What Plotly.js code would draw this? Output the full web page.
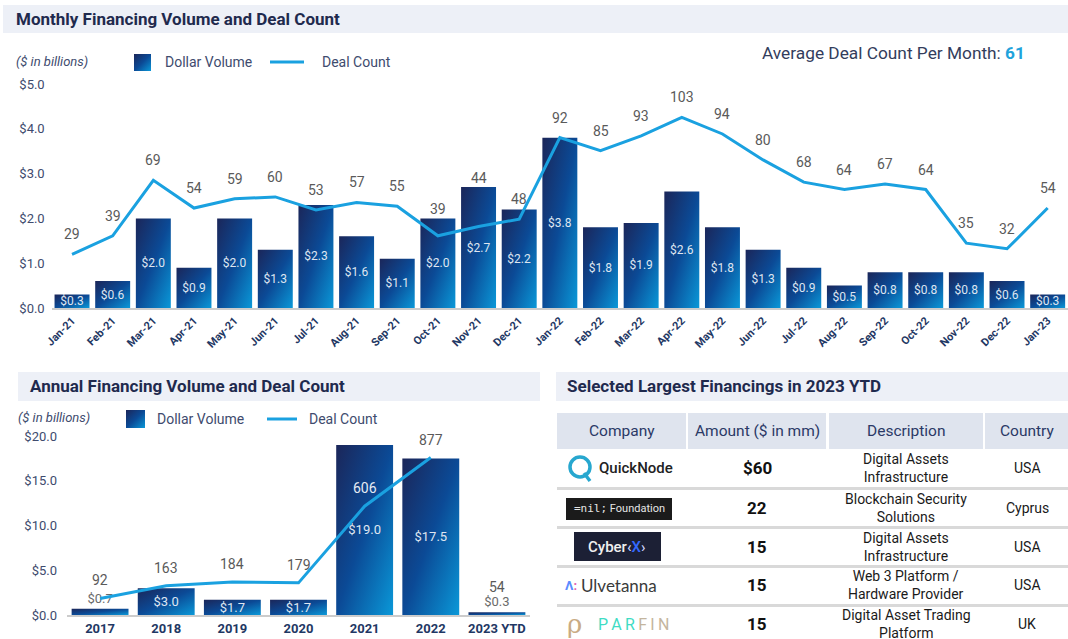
<!DOCTYPE html>
<html>
<head>
<meta charset="utf-8">
<script src="https://cdn.plot.ly/plotly-3.0.1.min.js"></script>
<style>
  html, body { margin: 0; padding: 0; background: #ffffff; }
  #chart { width: 1068px; height: 639px; }
</style>
</head>
<body>
<div id="chart"></div>
<script>
// ---------- DATA ----------
const months = ['Jan-21','Feb-21','Mar-21','Apr-21','May-21','Jun-21','Jul-21','Aug-21','Sep-21','Oct-21','Nov-21','Dec-21',
                'Jan-22','Feb-22','Mar-22','Apr-22','May-22','Jun-22','Jul-22','Aug-22','Sep-22','Oct-22','Nov-22','Dec-22','Jan-23'];
const monthlyVolume = [0.3,0.6,2.0,0.9,2.0,1.3,2.3,1.6,1.1,2.0,2.7,2.2,3.8,1.8,1.9,2.6,1.8,1.3,0.9,0.5,0.8,0.8,0.8,0.6,0.3];
const monthlyDeals  = [29,39,69,54,59,60,53,57,55,39,44,48,92,85,93,103,94,80,68,64,67,64,35,32,54];
const avgDealCount = 61;

const years = ['2017','2018','2019','2020','2021','2022','2023 YTD'];
const annualVolume = [0.7,3.0,1.7,1.7,19.0,17.5,0.3];
const annualDeals  = [92,163,184,179,606,877,54];

const tableHeaders = ['Company','Amount ($ in mm)','Description','Country'];
const tableCompanies = ['QuickNode','=nil; Foundation','Cyber<X>','Ulvetanna','PARFIN'];
const tableAmounts = [60,22,15,15,15];
const tableDescriptions = ['Digital Assets<br>Infrastructure','Blockchain Security<br>Solutions','Digital Assets<br>Infrastructure','Web 3 Platform /<br>Hardware Provider','Digital Asset Trading<br>Platform'];
const tableCountries = ['USA','Cyprus','USA','USA','UK'];

// ---------- HELPERS ----------
const W = 1068, H = 639;
const px = x => x / W;
const py = y => 1 - y / H;
const BAR = '#0c3f8c';
const LINE = '#1aa1e0';
const NAVY = '#1f2a4e';
const AXC = '#404b6e';
const FONT = 'Roboto, Arial, sans-serif';

// axis geometry (pixels)
const TOP = {y0:308, y1:84, vMax:5, dMax:121};
const BOT = {y0:615, y1:436, vMax:20, dMax:997};

const shapes = [];
const annotations = [];
function rect(x0,y0,x1,y1,fill,lineColor,lw){
  shapes.push({type:'rect',xref:'paper',yref:'paper',x0:px(x0),x1:px(x1),y0:py(y1),y1:py(y0),
    fillcolor:fill,line:{width:lw||0,color:lineColor||fill},layer:'below'});
}
function seg(x0,y0,x1,y1,color,w,layer){
  shapes.push({type:'line',xref:'paper',yref:'paper',x0:px(x0),x1:px(x1),y0:py(y0),y1:py(y1),
    line:{color:color,width:w},layer:layer||'above'});
}
function txt(text,x,y,o){
  o = o || {};
  annotations.push(Object.assign({text:text,xref:'paper',yref:'paper',x:px(x),y:py(y),showarrow:false,
    xanchor:'left',yanchor:'middle',font:{family:FONT,size:14,color:AXC}}, o));
}

// ---------- HEADER BANDS ----------
const HF = {family:FONT,size:17,color:NAVY,weight:'bold'};
rect(3,5,1068,33,'#edf0f7');
txt('Monthly Financing Volume and Deal Count',14,19,{font:HF});
rect(18,372,540,401,'#edf0f7');
txt('Annual Financing Volume and Deal Count',28,386,{font:HF});
rect(556,372,1068,401,'#edf0f7');
txt('Selected Largest Financings in 2023 YTD',565,386,{font:HF});

// ---------- LEGENDS (top) ----------
txt('($ in billions)',14,62,{font:{family:FONT,size:13,color:AXC,style:'italic'}});
rect(134,54,151,71,BAR);
txt('Dollar Volume',163,62,{font:{family:FONT,size:14,color:AXC}});
seg(270,62,304,62,LINE,3);
txt('Deal Count',320,62,{font:{family:FONT,size:14,color:AXC}});
txt('Average Deal Count Per Month: <span style="color:#1fa3dc"><b>' + avgDealCount + '</b></span>',1027,53,
    {xanchor:'right',font:{family:FONT,size:17.3,color:'#333d5c'}});

// ---------- LEGENDS (bottom-left) ----------
txt('($ in billions)',16,417,{font:{family:FONT,size:13,color:AXC,style:'italic'}});
rect(126,410,145,428,BAR);
txt('Dollar Volume',155,419,{font:{family:FONT,size:14,color:AXC}});
seg(267,419,297,419,LINE,3);
txt('Deal Count',307,419,{font:{family:FONT,size:14,color:AXC}});

// ---------- DEAL COUNT LABELS ----------
const topVpx = (TOP.y0-TOP.y1)/TOP.vMax, topDpx = (TOP.y0-TOP.y1)/TOP.dMax;
months.forEach((m,i)=>{
  const pointPx = monthlyDeals[i]*topDpx, barPx = monthlyVolume[i]*topVpx;
  const shift = Math.max(20, barPx + 9 - pointPx);
  annotations.push({x:i,y:monthlyDeals[i],xref:'x',yref:'y2',yshift:shift,showarrow:false,
    text:String(monthlyDeals[i]),font:{family:FONT,size:14,color:'#5a5a5a'}});
});
const botVpx = (BOT.y0-BOT.y1)/BOT.vMax, botDpx = (BOT.y0-BOT.y1)/BOT.dMax;
years.forEach((yv,i)=>{
  const inside = annualVolume[i]*botVpx > 80 && annualDeals[i]*botDpx < annualVolume[i]*botVpx - 20;
  annotations.push({x:i,y:annualDeals[i],xref:'x2',yref:'y4',yshift:18,showarrow:false,
    text:String(annualDeals[i]),font:{family:FONT,size:14,color: inside ? '#e6ebf4' : '#5a5a5a'}});
});

// ---------- TABLE ----------
const cols = [[557,686],[688,826],[829,983],[985,1068]];
cols.forEach((c,i)=>{
  rect(c[0],413,c[1],449,'#dfe4ee');
  txt(tableHeaders[i],(c[0]+c[1])/2,431,{xanchor:'center',font:{family:FONT,size:15.5,color:'#2b3966'}});
});
const rowY = [468,508,547,585,624];
[488.5,527.5,566.5,605.5].forEach(y=>seg(557,y,1068,y,'#d9d9d9',3,'below'));
tableCompanies.forEach((c,i)=>{
  const y = rowY[i];
  txt((i===0?'$':'') + tableAmounts[i],757,y,{xanchor:'center',font:{family:FONT,size:17,color:'#111',weight:'bold'}});
  txt(tableDescriptions[i],906,y,{xanchor:'center',font:{family:FONT,size:14,color:'#1a1a1a'}});
  txt(tableCountries[i],1027,y,{xanchor:'center',font:{family:FONT,size:14,color:'#1a1a1a'}});
});
// logos rendered as text / simple shapes
shapes.push({type:'circle',xref:'paper',yref:'paper',x0:px(570),x1:px(590),y0:py(477),y1:py(457),
  line:{color:'#27a7cf',width:3.5},fillcolor:'rgba(0,0,0,0)'});
seg(584,473,590,481,'#27a7cf',3.5);
txt(tableCompanies[0],597,468,{font:{family:FONT,size:15,color:'#222',weight:500}});
rect(566,498,672,520,'#1b1b1b');
txt('<span style="font-family:DejaVu Sans Mono">=nil;</span> Foundation',619,509,{xanchor:'center',font:{family:FONT,size:11,color:'#e6e6e6'}});
rect(574,532,661,561,'#1c2035');
txt('Cyber<span style="color:#cfd6ff">‹</span><span style="color:#3468ff">X</span><span style="color:#cfd6ff">›</span>',617,547,
    {xanchor:'center',font:{family:FONT,size:15,color:'#f0f0f0',weight:500}});
txt('<span style="color:#5b8cff">Λ</span><span style="color:#e45fb0">:</span>',563,585,{font:{family:FONT,size:13,color:'#7b6cff',weight:'bold'}});
txt(tableCompanies[3],579,585,{font:{family:'Lato, Roboto, sans-serif',size:17,color:'#3a3a3a'}});
txt('ρ',565,624,{font:{family:'DejaVu Serif, serif',size:26,color:'#c9ab84'}});
txt('<span style="color:#3fdcc4">P\u2009A\u2009R\u2009</span><span style="color:#c4b59e">F\u2009I\u2009N</span>',596,624,{font:{family:FONT,size:16,color:'#3fdcc4'}});

// ---------- TRACES ----------
const traces = [
  {type:'bar',x:months,y:monthlyVolume,xaxis:'x',yaxis:'y',
   text:monthlyVolume.map(v=>'$'+v.toFixed(1)),textposition:'inside',insidetextanchor:'middle',constraintext:'none',
   textfont:{family:FONT,size:12,color:'#dfe6f1'},marker:{color:BAR,line:{width:0}},hoverinfo:'skip',cliponaxis:false},
  {type:'scatter',mode:'lines',x:months,y:monthlyDeals,xaxis:'x',yaxis:'y2',
   line:{color:LINE,width:3},hoverinfo:'skip'},
  {type:'bar',x:years,y:annualVolume,xaxis:'x2',yaxis:'y3',
   text:annualVolume.map(v=>'$'+v.toFixed(1)),
   textposition:annualVolume.map(v=> v>1 ? 'inside' : 'outside'),
   insidetextanchor:'middle',constraintext:'none',cliponaxis:false,
   textfont:{family:FONT,size:13,color:'#dfe6f1'},
   outsidetextfont:{family:FONT,size:13,color:'#6b6b6b'},
   marker:{color:BAR,line:{width:0}},hoverinfo:'skip'},
  {type:'scatter',mode:'lines',x:years,y:annualDeals.map((v,i)=> years[i].indexOf('YTD')>=0 ? null : v),xaxis:'x2',yaxis:'y4',
   line:{color:LINE,width:3},connectgaps:false,hoverinfo:'skip'}
];

const layout = {
  width:W,height:H,margin:{l:0,r:0,t:0,b:0},
  paper_bgcolor:'#ffffff',plot_bgcolor:'rgba(0,0,0,0)',
  showlegend:false,font:{family:FONT},bargap:0.14,
  xaxis:{domain:[px(51.7),1],anchor:'y',type:'category',range:[-0.5,months.length-0.5],tickangle:-45,
    tickfont:{family:FONT,size:11,color:'#1f3864',weight:'bold'},
    showline:true,linecolor:'#cccccc',linewidth:2,ticks:'',showgrid:false,fixedrange:true},
  yaxis:{domain:[py(TOP.y0),py(TOP.y1)],anchor:'x',range:[0,TOP.vMax],dtick:1,tickprefix:'$',tickformat:'.1f',
    showgrid:false,zeroline:false,showline:false,ticks:'',ticklabelstandoff:6,
    tickfont:{family:FONT,size:13,color:AXC},fixedrange:true},
  yaxis2:{overlaying:'y',anchor:'x',range:[0,TOP.dMax],visible:false,fixedrange:true},
  xaxis2:{domain:[px(67),px(530)],anchor:'y3',type:'category',range:[-0.5,years.length-0.5],
    tickfont:{family:FONT,size:13,color:'#1f3864',weight:'bold'},
    showline:true,linecolor:'#cccccc',linewidth:2,ticks:'',showgrid:false,fixedrange:true},
  yaxis3:{domain:[py(BOT.y0),py(BOT.y1)],anchor:'x2',range:[0,BOT.vMax],dtick:5,tickprefix:'$',tickformat:'.1f',
    showgrid:false,zeroline:false,showline:false,ticks:'',ticklabelstandoff:9,
    tickfont:{family:FONT,size:13,color:AXC},fixedrange:true},
  yaxis4:{overlaying:'y3',anchor:'x2',range:[0,BOT.dMax],visible:false,fixedrange:true},
  shapes:shapes,annotations:annotations
};

Plotly.newPlot('chart',traces,layout,{staticPlot:true,displayModeBar:false}).then(gd=>{
  const svg = gd.querySelector('svg.main-svg');
  const NS = 'http://www.w3.org/2000/svg';
  let defs = svg.querySelector('defs');
  if(!defs){ defs = document.createElementNS(NS,'defs'); svg.insertBefore(defs, svg.firstChild); }
  const g = document.createElementNS(NS,'linearGradient');
  g.setAttribute('id','barGrad'); g.setAttribute('x1','0'); g.setAttribute('y1','0');
  g.setAttribute('x2','1'); g.setAttribute('y2','1');
  [['0','#1b2659'],['0.5','#0b4a96'],['1','#0a98d8']].forEach(s=>{
    const st = document.createElementNS(NS,'stop');
    st.setAttribute('offset',s[0]); st.setAttribute('stop-color',s[1]); g.appendChild(st);
  });
  defs.appendChild(g);
  gd.querySelectorAll('path').forEach(p=>{
    const f = (p.style.fill||'').replace(/\s/g,'');
    if(f==='rgb(12,63,140)'){ p.style.fill='url(#barGrad)'; }
  });
});
</script>
</body>
</html>
